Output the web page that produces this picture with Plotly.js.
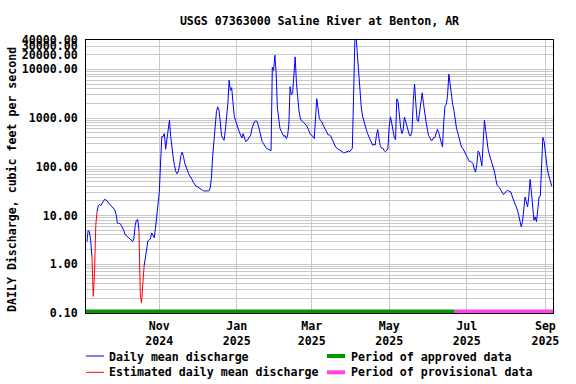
<!DOCTYPE html>
<html><head><meta charset="utf-8">
<script src="https://cdn.plot.ly/plotly-3.0.1.min.js"></script>
<style>html,body{margin:0;padding:0;background:#fff}#chart{width:576px;height:384px}</style>
</head><body><div id="chart"></div>
<script>
// ---- data ----
const chartTitle = 'USGS 07363000 Saline River at Benton, AR';
const yTitle = 'DAILY Discharge, cubic feet per second';
const startDate = '2024-09-05';
const discharge = [
  2.9, 5.0, 4.7, 3.0, 1.4, 0.22, 0.65, 6.3, 12, 16,
  17, 16, 18, 20, 21.5, 21, 19.5, 18, 17, 16,
  14.6, 13.3, 13, 10.5, 7, 6.8, 6.9, 6.3, 5.7, 5.0,
  4.1, 3.9, 3.6, 3.4, 3.3, 3.1, 2.95, 3.3, 6.3, 8.0,
  8.3, 5.0, 0.25, 0.16, 0.41, 0.9, 1.3, 2.0, 3.0, 3.2,
  3.3, 4.4, 4.0, 3.5, 5.5, 11, 20, 30, 120, 420,
  420, 480, 230, 400, 700, 900, 420, 220, 150, 105,
  80, 72, 80, 110, 170, 200, 165, 120, 100, 85,
  73, 65, 60, 54, 47, 42, 40, 39, 37, 35,
  34, 33, 32, 32, 32, 32, 32, 36, 57, 160,
  300, 720, 1350, 1700, 1450, 830, 440, 380, 350, 560,
  1000, 2000, 6000, 3700, 4200, 1800, 1100, 900, 720, 620,
  520, 450, 390, 480, 390, 330, 340, 380, 400, 450,
  620, 730, 850, 880, 850, 700, 540, 400, 330, 300,
  270, 245, 235, 225, 220, 215, 11000, 9500, 19500, 8500,
  1600, 920, 620, 540, 460, 420, 440, 380, 430, 720,
  4400, 3000, 3300, 7000, 18000, 5200, 2300, 1400, 1000, 880,
  850, 800, 760, 700, 620, 530, 460, 440, 420, 380,
  900, 2500, 1600, 990, 880, 840, 720, 630, 570, 480,
  450, 450, 430, 370, 320, 270, 250, 240, 230, 225,
  215, 205, 195, 195, 200, 205, 210, 205, 225, 240,
  3000, 45000, 45000, 20000, 5500, 2500, 1700, 1100, 850, 680,
  580, 480, 420, 360, 310, 275, 290, 280, 450, 580,
  380, 270, 240, 240, 215, 205, 215, 240, 670, 1060,
  790, 600, 400, 360, 2500, 2200, 1100, 650, 480, 560,
  1050, 850, 620, 490, 440, 430, 560, 2300, 5000, 2000,
  900, 850, 1450, 2400, 3300, 2000, 1200, 850, 600, 440,
  400, 350, 350, 400, 400, 480, 590, 500, 400, 300,
  256, 850, 1800, 1900, 3000, 8000, 4500, 2500, 1900, 1450,
  880, 620, 500, 400, 290, 250, 240, 210, 190, 175,
  150, 130, 130, 125, 117, 90, 78, 110, 210, 195,
  140, 105, 300, 900, 560, 310, 220, 175, 145, 117,
  100, 78, 55, 42, 39, 37, 33, 29, 27, 29,
  31, 33, 32, 31, 30, 24, 21, 18, 15.5, 13,
  10, 8, 5.9, 7.5, 13, 24, 19, 15, 25, 55,
  30, 15, 8, 9.4, 7.5, 13, 24, 25, 90, 400,
  330, 180, 117, 78, 60, 50, 40
];
const estimatedDays = ['2024-09-10','2024-09-11','2024-09-12','2024-10-17','2024-10-18','2024-10-19'];
const approvedUntil = '2025-06-21T14:00';
const xTickVals = ['2024-11-01','2025-01-01','2025-03-01','2025-05-01','2025-07-01','2025-09-01'];
const xTickText = ['Nov<br>2024','Jan<br>2025','Mar<br>2025','May<br>2025','Jul<br>2025','Sep<br>2025'];
const yTickVals = [0.1, 1, 10, 100, 1000, 10000, 20000, 30000, 40000];
const yTickText = ['0.10','1.00','10.00','100.00','1000.00','10000.00','20000.00','30000.00','40000.00'];
const legendLabels = ['Daily mean discharge','Estimated daily mean discharge','Period of approved data','Period of provisional data'];
const xRange = ['2024-09-04 07:00','2025-09-07 00:00'];
const yMin = 0.1, yMax = 40000;

// ---- build ----
const dates = discharge.map((_, i) => {
  const d = new Date(startDate + 'T00:00:00Z');
  d.setUTCDate(d.getUTCDate() + i);
  return d.toISOString().slice(0, 10);
});
const isEst = dates.map(d => estimatedDays.includes(d));
const blueY = discharge.map((v, i) => isEst[i] ? null : v);
const redY = discharge.map((v, i) => (isEst[i] || isEst[i-1] || isEst[i+1]) ? v : null);

// log grid lines (1..9 per decade)
const gridVals = [], gridText = [];
for (let e = -1; e <= 4; e++) {
  for (let m = 1; m <= 9; m++) {
    const v = m * Math.pow(10, e);
    if (v > yMax * 1.0001) break;
    gridVals.push(v);
    const j = yTickVals.findIndex(t => Math.abs(t - v) / t < 1e-6);
    gridText.push(j >= 0 ? yTickText[j] : '');
  }
}

const W = 576, H = 384, mL = 86, mR = 23, mT = 40, mB = 71;
const pW = W - mL - mR, pH = H - mT - mB;
const px = x => (x - mL) / pW;
const py = y => 1 - (y - mT) / pH;

const FONT = {family: 'DejaVu Sans Mono, monospace', size: 11.6, color: '#000', weight: 'bold'};

const traces = [
  {x: dates, y: blueY, type: 'scatter', mode: 'lines', name: legendLabels[0],
   line: {color: '#0000ff', width: 1}, connectgaps: false, showlegend: false},
  {x: dates, y: redY, type: 'scatter', mode: 'lines', name: legendLabels[1],
   line: {color: '#ff0000', width: 1}, connectgaps: false, showlegend: false}
];

const bandY = 1.7 / pH;
const shapes = [
  {type: 'line', xref: 'x', yref: 'paper', x0: xRange[0], x1: approvedUntil, y0: bandY, y1: bandY,
   line: {color: '#009900', width: 3.5}, layer: 'above'},
  {type: 'line', xref: 'x', yref: 'paper', x0: approvedUntil, x1: xRange[1], y0: bandY, y1: bandY,
   line: {color: '#ff44ee', width: 3.5}, layer: 'above'},
  // legend samples
  {type: 'line', xref: 'paper', yref: 'paper', x0: px(86), x1: px(104), y0: py(356), y1: py(356), line: {color: '#0000ff', width: 1}},
  {type: 'line', xref: 'paper', yref: 'paper', x0: px(86), x1: px(104), y0: py(372.3), y1: py(372.3), line: {color: '#ff0000', width: 1}},
  {type: 'line', xref: 'paper', yref: 'paper', x0: px(327), x1: px(345), y0: py(356), y1: py(356), line: {color: '#009900', width: 4}},
  {type: 'line', xref: 'paper', yref: 'paper', x0: px(327), x1: px(345), y0: py(372.3), y1: py(372.3), line: {color: '#ff44ee', width: 4}}
];

const ann = (text, x, y) => ({text, xref: 'paper', yref: 'paper', x: px(x), y: py(y),
  xanchor: 'left', yanchor: 'middle', showarrow: false, font: FONT, borderpad: 0});
const annotations = [
  ann(legendLabels[0], 108, 356.5),
  ann(legendLabels[1], 108, 372.5),
  ann(legendLabels[2], 350, 356.5),
  ann(legendLabels[3], 350, 372.5),
  {text: yTitle, xref: 'paper', yref: 'paper', x: px(12), y: py(180), textangle: -90,
   xanchor: 'center', yanchor: 'middle', showarrow: false, font: FONT}
];

const layout = {
  width: W, height: H,
  margin: {l: mL, r: mR, t: mT, b: mB, pad: 0},
  paper_bgcolor: '#fff', plot_bgcolor: '#fff',
  font: FONT,
  showlegend: false,
  title: {text: chartTitle, font: FONT, x: (mL + pW / 2) / W, xanchor: 'center',
          y: 1 - 20.5 / H, yanchor: 'middle', xref: 'container', yref: 'container'},
  xaxis: {type: 'date', range: xRange, tickmode: 'array', tickvals: xTickVals, ticktext: xTickText,
          showgrid: true, gridcolor: '#c8c8c8', gridwidth: 1, zeroline: false,
          showline: true, linecolor: '#000', linewidth: 1, mirror: true,
          ticks: '', tickfont: FONT, ticklabelstandoff: 2},
  yaxis: {type: 'log', range: [Math.log10(yMin), Math.log10(yMax)], tickmode: 'array',
          tickvals: gridVals, ticktext: gridText,
          showgrid: true, gridcolor: '#c8c8c8', gridwidth: 1, zeroline: false,
          showline: true, linecolor: '#000', linewidth: 1, mirror: true,
          ticks: '', tickfont: FONT, ticklabelstandoff: 5},
  shapes, annotations
};

Plotly.newPlot('chart', traces, layout, {staticPlot: true, displayModeBar: false});
</script>
</body></html>
